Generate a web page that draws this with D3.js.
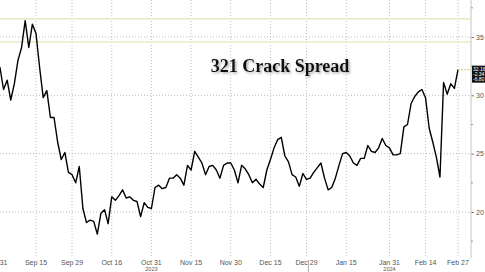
<!DOCTYPE html>
<html>
<head>
<meta charset="utf-8">
<script src="https://cdn.jsdelivr.net/npm/d3@7"></script>
<style>
    body { margin: 0; background: #fff; }
    .grid line { stroke: #bdbdbd; stroke-width: 1; stroke-dasharray: 1,2; }
    .axisLabel { font-family: "Liberation Sans", Arial, sans-serif; font-size: 7px; fill: #555; }
    .chartTitle { font-family: "Liberation Serif", "Times New Roman", serif; font-weight: bold; font-size: 18px; fill: #111; }
</style>
</head>
<body>
<script>
//wrap everything in a self-executing anonymous function
(function(){

    //daily closes (weekdays), first day Aug 31 2023
    var startDate = "2023-08-31";
    var values = [
        32.5, 32.4, 30.5, 31.3, 29.6, 31.0, 33.0, 34.1, 36.4, 34.1,
        36.1, 35.3, 32.4, 29.8, 30.4, 28.1, 28.1, 26.0, 24.5, 25.1,
        23.4, 23.2, 22.5, 23.9, 20.3, 19.1, 19.3, 19.2, 18.1, 19.9,
        20.2, 19.0, 21.3, 21.0, 21.4, 21.9, 21.2, 21.3, 21.0, 20.9,
        19.6, 20.8, 20.4, 20.3, 22.1, 22.3, 22.0, 22.1, 22.9, 22.9,
        23.2, 22.9, 22.3, 24.0, 23.6, 25.2, 24.7, 24.2, 23.2, 23.9,
        24.0, 23.6, 22.9, 24.0, 24.2, 24.2, 23.6, 22.5, 24.0, 23.7,
        23.2, 22.5, 22.8, 22.4, 22.1, 23.6, 24.5, 25.5, 26.2, 26.4,
        24.8, 24.3, 23.2, 23.0, 22.2, 23.3, 22.8, 22.9, 23.4, 23.8,
        24.2, 22.9, 21.9, 22.1, 22.9, 24.0, 25.0, 25.1, 24.8, 24.2,
        24.0, 24.6, 24.6, 25.7, 25.2, 25.1, 25.5, 26.3, 25.7, 25.5,
        24.9, 24.9, 25.0, 27.3, 27.5, 29.3, 29.9, 30.3, 30.5, 29.8,
        27.2, 26.0, 24.7, 23.0, 31.1, 30.1, 31.0, 30.6, 32.2
    ];

    //x axis ticks
    var tickDates = ["2023-08-31", "2023-09-15", "2023-09-29", "2023-10-16", "2023-10-31", "2023-11-15",
        "2023-11-30", "2023-12-15", "2023-12-29", "2024-01-15", "2024-01-31", "2024-02-14", "2024-02-27"];
    var tickLabels = ["Aug 31", "Sep 15", "Sep 29", "Oct 16", "Oct 31", "Nov 15",
        "Nov 30", "Dec 15", "Dec 29", "Jan 15", "Jan 31", "Feb 14", "Feb 27"];
    var yearDates = ["2023-10-31", "2024-01-31"];
    var yearLabels = ["2023", "2024"];

    //y axis ticks
    var yTicks = [20, 25, 30, 35];
    var yMinorTicks = [17.5, 22.5, 27.5, 32.5, 37.5];

    //highlighted levels
    var refLevels = [36.55, 34.57];

    //last value box
    var lastLabels = ["32.16", "-2.34", "-6.80"];

    var titleText = "321 Crack Spread";

    var width = 485,
        height = 272;

    var parse = d3.timeParse("%Y-%m-%d");

    //build the weekday date list for the series
    var dates = [];
    var d = parse(startDate);
    while (dates.length < values.length){
        if (d.getDay() != 0 && d.getDay() != 6) dates.push(d);
        d = d3.timeDay.offset(d, 1);
    };

    //index of a date in the weekday list
    function dayIndex(str){
        var t = +parse(str);
        for (var i = 0; i < dates.length; i++){
            if (+dates[i] >= t) return i;
        };
        return dates.length - 1;
    };

    var svg = d3.select("body")
        .append("svg")
        .attr("width", width)
        .attr("height", height);

    //drop shadow for the title
    svg.append("defs")
        .append("filter")
        .attr("id", "shadow")
        .attr("x", "-10%").attr("y", "-30%")
        .attr("width", "130%").attr("height", "160%")
        .append("feDropShadow")
        .attr("dx", 1.5)
        .attr("dy", 1.5)
        .attr("stdDeviation", 0.8)
        .attr("flood-color", "#888")
        .attr("flood-opacity", 0.7);

    //scales
    var xScale = d3.scaleLinear()
        .domain([11, 128])
        .range([36, 458]);

    var yScale = d3.scaleLinear()
        .domain([20, 35])
        .range([212, 37]);

    var plotRight = 471,
        plotBottom = 258;

    //vertical gridlines
    svg.append("g")
        .attr("class", "grid")
        .selectAll("line")
        .data(tickDates)
        .enter()
        .append("line")
        .attr("x1", function(t){ return xScale(dayIndex(t)); })
        .attr("x2", function(t){ return xScale(dayIndex(t)); })
        .attr("y1", 0)
        .attr("y2", plotBottom);

    //horizontal gridlines
    svg.append("g")
        .attr("class", "grid")
        .selectAll("line")
        .data(yTicks)
        .enter()
        .append("line")
        .attr("x1", 0)
        .attr("x2", plotRight)
        .attr("y1", function(v){ return yScale(v); })
        .attr("y2", function(v){ return yScale(v); });

    //reference levels
    svg.selectAll(".refLine")
        .data(refLevels)
        .enter()
        .append("line")
        .attr("class", "refLine")
        .attr("x1", 0)
        .attr("x2", plotRight)
        .attr("y1", function(v){ return yScale(v); })
        .attr("y2", function(v){ return yScale(v); })
        .style("stroke", "#e9ecc4")
        .style("stroke-width", 1.6);

    //title
    svg.append("text")
        .attr("class", "chartTitle")
        .attr("x", 280)
        .attr("y", 72)
        .attr("text-anchor", "middle")
        .attr("filter", "url(#shadow)")
        .text(titleText);

    //price line
    var line = d3.line()
        .x(function(v, i){ return xScale(i); })
        .y(function(v){ return yScale(v); });

    svg.append("path")
        .datum(values)
        .attr("d", line)
        .style("fill", "none")
        .style("stroke", "#000")
        .style("stroke-width", 1.4)
        .style("stroke-linejoin", "round");

    //right axis
    var yAxis = d3.axisRight(yScale)
        .tickValues(yTicks)
        .tickSize(3)
        .tickFormat(d3.format("d"));

    var axis = svg.append("g")
        .attr("transform", "translate(" + plotRight + ",0)")
        .call(yAxis);
    axis.select(".domain").remove();
    axis.selectAll("line").style("stroke", "#777");
    axis.selectAll("text")
        .attr("class", "axisLabel")
        .attr("x", 5)
        .style("font-size", "7px")
        .style("font-family", "Liberation Sans, Arial, sans-serif")
        .style("fill", "#555");

    svg.append("line")
        .attr("x1", plotRight)
        .attr("x2", plotRight)
        .attr("y1", 0)
        .attr("y2", plotBottom)
        .style("stroke", "#c4c4c4");

    svg.selectAll(".minorTick")
        .data(yMinorTicks)
        .enter()
        .append("line")
        .attr("class", "minorTick")
        .attr("x1", plotRight)
        .attr("x2", plotRight + 2)
        .attr("y1", function(v){ return yScale(v); })
        .attr("y2", function(v){ return yScale(v); })
        .style("stroke", "#999");

    //x labels
    svg.selectAll(".xLabel")
        .data(tickDates)
        .enter()
        .append("text")
        .attr("class", "axisLabel")
        .attr("x", function(t){ return xScale(dayIndex(t)); })
        .attr("y", 265)
        .attr("text-anchor", "middle")
        .text(function(t, i){ return tickLabels[i]; });

    svg.selectAll(".yearLabel")
        .data(yearDates)
        .enter()
        .append("text")
        .attr("class", "axisLabel")
        .attr("x", function(t){ return xScale(dayIndex(t)); })
        .attr("y", 271)
        .attr("text-anchor", "middle")
        .style("font-size", "5.5px")
        .text(function(t, i){ return yearLabels[i]; });

    //year separator
    var sepX = (xScale(dayIndex("2023-12-29")) + xScale(dayIndex("2024-01-01"))) / 2;
    svg.append("line")
        .attr("x1", sepX)
        .attr("x2", sepX)
        .attr("y1", 260)
        .attr("y2", height)
        .style("stroke", "#aaa");

    //last value marker
    var last = values[values.length - 1];
    svg.append("line")
        .attr("x1", xScale(values.length - 1))
        .attr("x2", plotRight + 1)
        .attr("y1", yScale(last))
        .attr("y2", yScale(last))
        .style("stroke", "#cfd47a")
        .style("stroke-dasharray", "2,1");

    svg.append("rect")
        .attr("x", plotRight + 1)
        .attr("y", yScale(last) - 4)
        .attr("width", 14)
        .attr("height", 17)
        .style("fill", "#111");

    svg.selectAll(".lastLabel")
        .data(lastLabels)
        .enter()
        .append("text")
        .attr("x", plotRight + 2)
        .attr("y", function(t, i){ return yScale(last) + 1 + i * 5.3; })
        .style("font-family", "Liberation Sans, Arial, sans-serif")
        .style("font-size", "5px")
        .style("fill", "#fff")
        .text(function(t){ return t; });

})();
</script>
</body>
</html>
